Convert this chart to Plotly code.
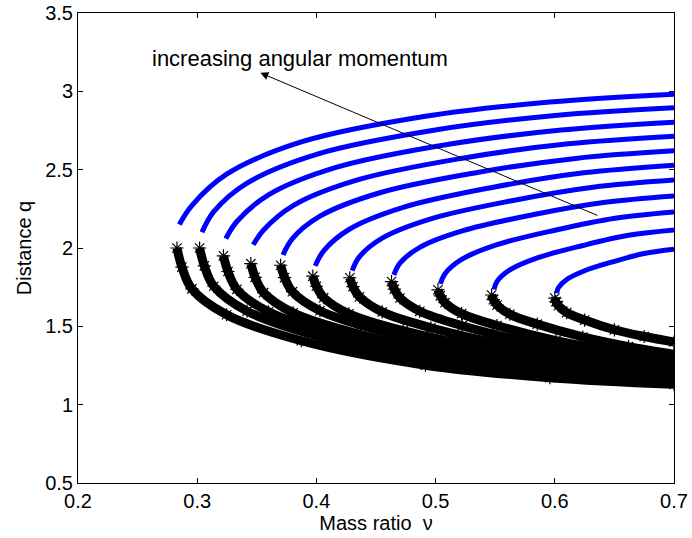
import plotly.graph_objects as go

# ---- data (mass ratio nu, distance q) ----
# upper (stable, blue) branches, one list per angular momentum level
upper_nu = [
    [0.285, 0.2955, 0.3247, 0.3873, 0.4915, 0.5958, 0.700],
    [0.304, 0.3139, 0.3418, 0.4015, 0.5010, 0.6005, 0.700],
    [0.324, 0.3333, 0.3598, 0.4165, 0.5110, 0.6055, 0.700],
    [0.347, 0.3557, 0.3805, 0.4338, 0.5225, 0.6113, 0.700],
    [0.372, 0.3799, 0.4030, 0.4525, 0.5350, 0.6175, 0.700],
    [0.399, 0.4061, 0.4273, 0.4728, 0.5485, 0.6243, 0.700],
    [0.430, 0.4362, 0.4552, 0.4960, 0.5640, 0.6320, 0.700],
    [0.465, 0.4701, 0.4867, 0.5223, 0.5815, 0.6408, 0.700],
    [0.504, 0.5079, 0.5218, 0.5515, 0.6010, 0.6505, 0.700],
    [0.549, 0.5516, 0.5623, 0.5853, 0.6235, 0.6618, 0.700],
    [0.6016, 0.603, 0.610, 0.625, 0.650, 0.675, 0.700],
]
upper_q = [
    [2.150, 2.271, 2.471, 2.677, 2.841, 2.932, 2.982],
    [2.100, 2.232, 2.414, 2.601, 2.755, 2.846, 2.895],
    [2.060, 2.169, 2.339, 2.514, 2.662, 2.753, 2.803],
    [2.020, 2.115, 2.271, 2.433, 2.573, 2.665, 2.714],
    [1.956, 2.060, 2.203, 2.351, 2.482, 2.572, 2.620],
    [1.886, 1.982, 2.118, 2.259, 2.388, 2.480, 2.529],
    [1.856, 1.945, 2.063, 2.186, 2.302, 2.388, 2.434],
    [1.828, 1.903, 2.004, 2.109, 2.212, 2.290, 2.332],
    [1.771, 1.836, 1.927, 2.021, 2.115, 2.190, 2.230],
    [1.735, 1.787, 1.860, 1.937, 2.016, 2.081, 2.115],
    [1.712, 1.746, 1.799, 1.855, 1.915, 1.965, 1.992],
]
# lower (unstable, black asterisk) branches
lower_nu = [
    [0.283, 0.2872, 0.2955, 0.3247, 0.3873, 0.4915, 0.5958, 0.700],
    [0.302, 0.3060, 0.3139, 0.3418, 0.4015, 0.5010, 0.6005, 0.700],
    [0.322, 0.3258, 0.3333, 0.3598, 0.4165, 0.5110, 0.6055, 0.700],
    [0.345, 0.3486, 0.3557, 0.3805, 0.4338, 0.5225, 0.6113, 0.700],
    [0.370, 0.3733, 0.3799, 0.4030, 0.4525, 0.5350, 0.6175, 0.700],
    [0.397, 0.4000, 0.4061, 0.4273, 0.4728, 0.5485, 0.6243, 0.700],
    [0.428, 0.4307, 0.4362, 0.4552, 0.4960, 0.5640, 0.6320, 0.700],
    [0.463, 0.4654, 0.4701, 0.4867, 0.5223, 0.5815, 0.6408, 0.700],
    [0.502, 0.5040, 0.5079, 0.5218, 0.5515, 0.6010, 0.6505, 0.700],
    [0.547, 0.5485, 0.5516, 0.5623, 0.5853, 0.6235, 0.6618, 0.700],
    [0.600, 0.601, 0.603, 0.610, 0.625, 0.650, 0.675, 0.700],
]
lower_q = [
    [2.000, 1.878, 1.739, 1.574, 1.408, 1.252, 1.172, 1.130],
    [2.000, 1.886, 1.756, 1.597, 1.437, 1.279, 1.195, 1.148],
    [1.950, 1.850, 1.736, 1.593, 1.447, 1.298, 1.214, 1.165],
    [1.900, 1.813, 1.715, 1.586, 1.454, 1.314, 1.233, 1.182],
    [1.890, 1.811, 1.721, 1.600, 1.475, 1.337, 1.253, 1.200],
    [1.820, 1.756, 1.683, 1.580, 1.472, 1.350, 1.273, 1.220],
    [1.810, 1.753, 1.688, 1.592, 1.491, 1.374, 1.296, 1.240],
    [1.786, 1.737, 1.681, 1.596, 1.504, 1.394, 1.317, 1.262],
    [1.733, 1.695, 1.651, 1.581, 1.505, 1.409, 1.340, 1.288],
    [1.700, 1.670, 1.636, 1.577, 1.514, 1.432, 1.370, 1.322],
    [1.680, 1.658, 1.632, 1.588, 1.540, 1.478, 1.435, 1.400],
]

x_ticks = [0.2, 0.3, 0.4, 0.5, 0.6, 0.7]
y_ticks = [0.5, 1, 1.5, 2, 2.5, 3, 3.5]
annot_text = "increasing angular momentum"
arrow_tail = (0.637, 2.204)
arrow_head = (0.353, 3.118)
text_pos = (0.2602, 3.209)

FONT = "Liberation Sans, Arial, Helvetica, sans-serif"

fig = go.Figure()
for nu, q in zip(upper_nu, upper_q):
    fig.add_trace(go.Scatter(x=nu, y=q, mode="lines",
                             line=dict(color="rgb(0,0,255)", width=5, shape="spline", smoothing=1.0),
                             showlegend=False, hoverinfo="skip"))
for nu, q in zip(lower_nu, lower_q):
    fig.add_trace(go.Scatter(x=nu, y=q, mode="lines+markers",
                             line=dict(color="black", width=9, shape="spline", smoothing=1.0),
                             marker=dict(symbol="asterisk-open", size=11, color="black",
                                         line=dict(color="black", width=1.2)),
                             showlegend=False, hoverinfo="skip"))

fig.add_annotation(x=arrow_head[0], y=arrow_head[1], ax=arrow_tail[0], ay=arrow_tail[1],
                   xref="x", yref="y", axref="x", ayref="y", text="",
                   showarrow=True, arrowhead=2, arrowsize=1.6, arrowwidth=1, arrowcolor="black")
fig.add_annotation(x=text_pos[0], y=text_pos[1], xref="x", yref="y", text=annot_text,
                   showarrow=False, xanchor="left", yanchor="middle",
                   font=dict(family=FONT, size=22, color="black"))

axis_common = dict(showline=True, linecolor="black", linewidth=1, mirror="ticks",
                   ticks="inside", ticklen=5, tickcolor="black", showgrid=False,
                   zeroline=False, automargin=False,
                   tickfont=dict(family=FONT, size=20, color="black"))
fig.update_xaxes(range=[0.2, 0.7], tickvals=x_ticks, ticktext=[f"{v:g}" for v in x_ticks],
                 title=dict(text="Mass ratio  ν", font=dict(family=FONT, size=20, color="black"),
                            standoff=2), **axis_common)
fig.update_yaxes(range=[0.5, 3.5], tickvals=y_ticks, ticktext=[f"{v:g}" for v in y_ticks],
                 title=dict(text="Distance q", font=dict(family=FONT, size=20, color="black"),
                            standoff=8), **axis_common)
fig.update_layout(width=692, height=538, margin=dict(l=78, r=18, t=13, b=55),
                  plot_bgcolor="white", paper_bgcolor="white")
fig.write_html("out.html")
